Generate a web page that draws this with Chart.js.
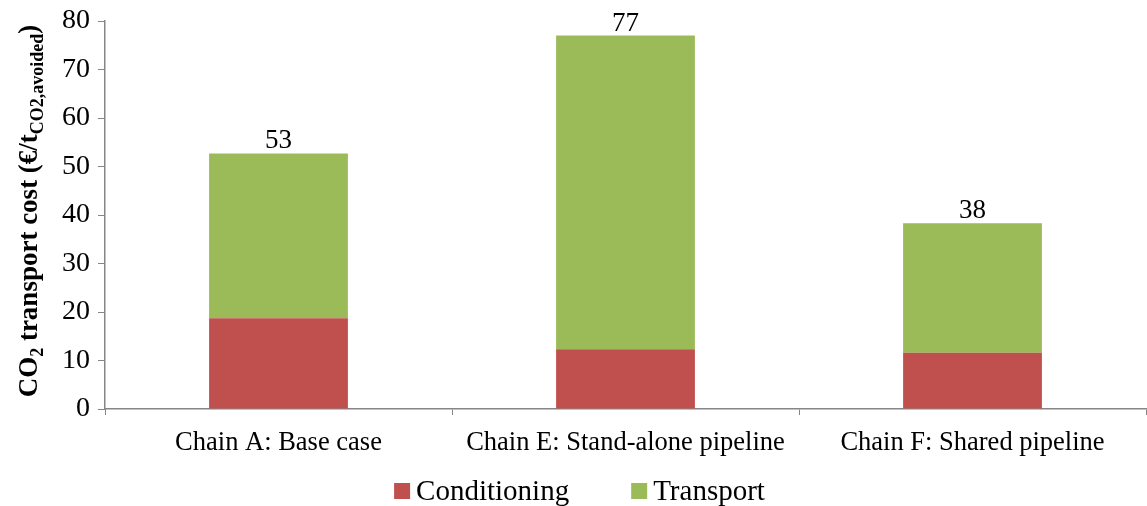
<!DOCTYPE html>
<html>
<head>
<meta charset="utf-8">
<title>CO2 transport cost by chain</title>
<script src="https://cdn.jsdelivr.net/npm/chart.js@4.4.1/dist/chart.umd.min.js"></script>
<style>
  html, body { margin: 0; padding: 0; background: #ffffff; }
  #wrap { width: 1147px; height: 506px; position: relative; }
</style>
</head>
<body>
<div id="wrap"><canvas id="chart" width="1147" height="506"></canvas></div>
<script>
// Chains compared
const categories = ['Chain A: Base case', 'Chain E: Stand-alone pipeline', 'Chain F: Shared pipeline'];
// Cost components, €/t CO2 avoided
const conditioning = [18.7, 12.3, 11.6];
const transport = [34.0, 64.7, 26.7];
// Value axis
const yTicks = [0, 10, 20, 30, 40, 50, 60, 70, 80];

const SERIF = '"Liberation Serif", "Times New Roman", serif';
const AXIS_GREY = '#868686';
const RED = '#C0504D';
const GREEN = '#9BBB59';

// Total of each stack printed above the bar
const totalLabels = {
  id: 'totalLabels',
  afterDatasetsDraw(chart) {
    const ctx = chart.ctx;
    const topMeta = chart.getDatasetMeta(chart.data.datasets.length - 1);
    ctx.save();
    ctx.font = '27px ' + SERIF;
    ctx.fillStyle = '#000';
    ctx.textAlign = 'center';
    ctx.textBaseline = 'alphabetic';
    topMeta.data.forEach((bar, i) => {
      const total = chart.data.datasets.reduce((s, ds) => s + ds.data[i], 0);
      ctx.fillText(String(Math.round(total)), bar.x, bar.y - 5);
    });
    ctx.restore();
  }
};

// Rotated value-axis title with subscripts
const yTitle = {
  id: 'yTitle',
  afterDraw(chart) {
    const ctx = chart.ctx;
    const area = chart.chartArea;
    const big = 'bold 27px ' + SERIF;
    const small = 'bold 18px ' + SERIF;
    const parts = [
      { t: 'CO', f: big, dy: 0 },
      { t: '2', f: small, dy: 6 },
      { t: ' transport cost (€/t', f: big, dy: 0 },
      { t: 'CO2,avoided', f: small, dy: 6 },
      { t: ')', f: big, dy: 0 }
    ];
    ctx.save();
    let total = 0;
    parts.forEach(p => { ctx.font = p.f; p.w = ctx.measureText(p.t).width; total += p.w; });
    const cy = (area.top + area.bottom) / 2 - 4;
    ctx.translate(37, cy);
    ctx.rotate(-Math.PI / 2);
    ctx.fillStyle = '#000';
    ctx.textBaseline = 'alphabetic';
    ctx.textAlign = 'left';
    let x = -total / 2;
    parts.forEach(p => {
      ctx.font = p.f;
      ctx.fillText(p.t, x, p.dy);
      x += p.w;
    });
    ctx.restore();
  }
};

// Legend row below the category labels
const bottomLegend = {
  id: 'bottomLegend',
  afterDraw(chart) {
    const ctx = chart.ctx;
    const font = '29px ' + SERIF;
    const box = 16, gap = 6, spacing = 62;
    const items = chart.data.datasets.map(ds => ({ text: ds.label, color: ds.backgroundColor }));
    ctx.save();
    ctx.font = font;
    let width = 0;
    items.forEach((it, i) => {
      it.w = ctx.measureText(it.text).width;
      width += box + gap + it.w + (i < items.length - 1 ? spacing : 0);
    });
    const cy = 491;
    let x = (chart.width - width) / 2 + 6;
    ctx.textBaseline = 'middle';
    ctx.textAlign = 'left';
    items.forEach(it => {
      ctx.fillStyle = it.color;
      ctx.fillRect(x, cy - box / 2, box, box);
      x += box + gap;
      ctx.fillStyle = '#000';
      ctx.fillText(it.text, x, cy + 1);
      x += it.w + spacing;
    });
    ctx.restore();
  }
};

new Chart(document.getElementById('chart'), {
  type: 'bar',
  data: {
    labels: categories,
    datasets: [
      { label: 'Conditioning', data: conditioning, backgroundColor: RED, borderWidth: 0 },
      { label: 'Transport', data: transport, backgroundColor: GREEN, borderWidth: 0 }
    ]
  },
  options: {
    responsive: false,
    animation: false,
    devicePixelRatio: 1,
    categoryPercentage: 1.0,
    barPercentage: 0.4,
    layout: { padding: { top: 21, right: 1, left: 0, bottom: 0 } },
    plugins: {
      legend: { display: false },
      tooltip: { enabled: false }
    },
    scales: {
      x: {
        stacked: true,
        offset: true,
        grid: {
          offset: true,
          drawOnChartArea: false,
          drawTicks: true,
          tickLength: 6,
          color: AXIS_GREY,
          lineWidth: 1
        },
        border: { color: AXIS_GREY, width: 1.5 },
        ticks: {
          font: { family: SERIF, size: 26.5 },
          color: '#000',
          padding: 12,
          maxRotation: 0,
          autoSkip: false
        },
        afterFit(scale) { scale.height = 97; }
      },
      y: {
        stacked: true,
        min: 0,
        max: 80,
        afterBuildTicks(scale) { scale.ticks = yTicks.map(v => ({ value: v })); },
        grid: {
          drawOnChartArea: false,
          drawTicks: true,
          tickLength: 7,
          color: AXIS_GREY,
          lineWidth: 1
        },
        border: { color: AXIS_GREY, width: 1.5 },
        ticks: {
          font: { family: SERIF, size: 28 },
          color: '#000',
          padding: 8
        },
        afterFit(scale) {
          scale.width = 105;
          scale.paddingTop = 0;
          scale.paddingBottom = 0;
        }
      }
    }
  },
  plugins: [totalLabels, yTitle, bottomLegend]
});
</script>
</body>
</html>
